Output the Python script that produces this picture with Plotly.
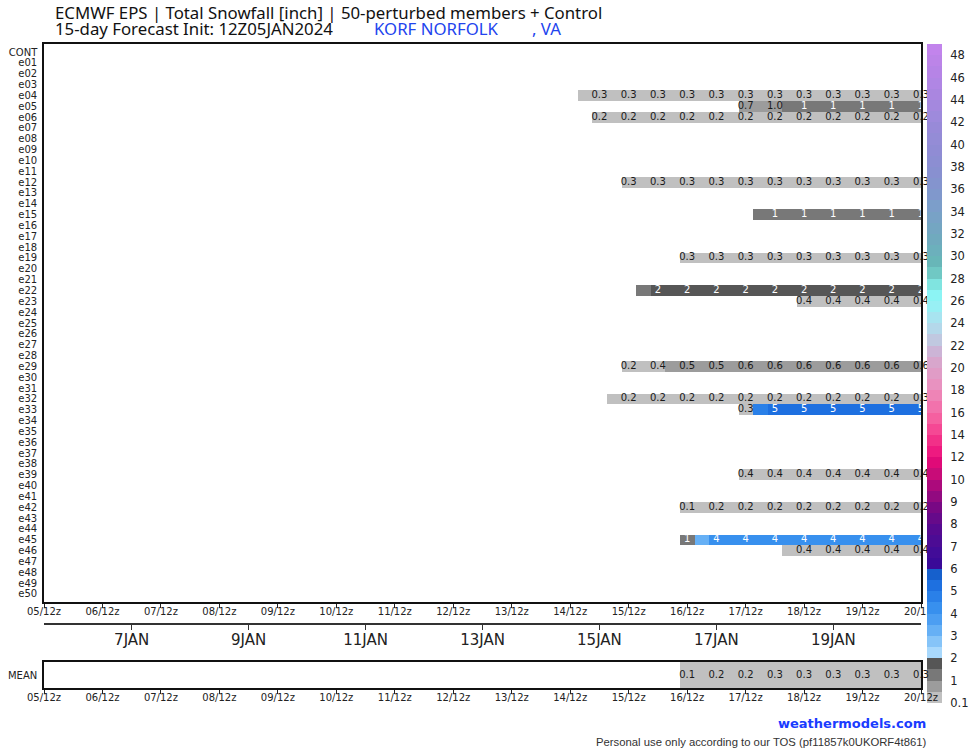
import numpy as np
import plotly.graph_objects as go

W, H = 974, 750

# ---------------- data ----------------
MEMBERS = ["CONT"] + [f"e{i:02d}" for i in range(1, 51)]
DAY_TICKS = ["05/12z", "06/12z", "07/12z", "08/12z", "09/12z", "10/12z", "11/12z", "12/12z",
             "13/12z", "14/12z", "15/12z", "16/12z", "17/12z", "18/12z", "19/12z", "20/12z"]
DATE_TICKS = ["7JAN", "9JAN", "11JAN", "13JAN", "15JAN", "17JAN", "19JAN"]
DATE_HOURS = [36, 84, 132, 180, 228, 276, 324]
N_STEPS = 61  # 6-hourly steps from 05/12z (step 0) to 20/12z (step 60)

# first 6-hourly step and accumulated snowfall [inch] per 6-h step, per member
e04_start, e04 = 37, [0.3, 0.3, 0.3, 0.3, 0.3, 0.3, 0.3, 0.3, 0.3, 0.3, 0.3, 0.3,
                      0.3, 0.3, 0.3, 0.3, 0.3, 0.3, 0.3, 0.3, 0.3, 0.3, 0.3, 0.3]
e05_start, e05 = 48, [0.7, 0.9, 0.97, 1.1, 1.2, 1.2, 1.3, 1.3, 1.3, 1.3, 1.3, 1.3, 1.3]
e06_start, e06 = 38, [0.2, 0.2, 0.2, 0.2, 0.2, 0.2, 0.2, 0.2, 0.2, 0.2, 0.2, 0.2,
                      0.2, 0.2, 0.2, 0.2, 0.2, 0.2, 0.2, 0.2, 0.2, 0.2, 0.2]
e12_start, e12 = 40, [0.3, 0.3, 0.3, 0.3, 0.3, 0.3, 0.3, 0.3, 0.3, 0.3, 0.3,
                      0.3, 0.3, 0.3, 0.3, 0.3, 0.3, 0.3, 0.3, 0.3, 0.3]
e15_start, e15 = 49, [1.2, 1.2, 1.2, 1.2, 1.2, 1.2, 1.2, 1.2, 1.2, 1.2, 1.2, 1.2]
e19_start, e19 = 44, [0.3, 0.3, 0.3, 0.3, 0.3, 0.3, 0.3, 0.3, 0.3, 0.3, 0.3,
                      0.3, 0.3, 0.3, 0.3, 0.3, 0.3]
e22_start, e22 = 41, [1.3, 1.8, 1.8, 1.8, 1.8, 1.8, 1.8, 1.8, 1.8, 1.8, 1.8,
                      1.8, 1.8, 1.8, 1.8, 1.8, 1.8, 1.8, 1.8, 1.8]
e23_start, e23 = 52, [0.4, 0.4, 0.4, 0.4, 0.4, 0.4, 0.4, 0.4, 0.4]
e29_start, e29 = 40, [0.2, 0.3, 0.4, 0.5, 0.5, 0.5, 0.5, 0.55, 0.6, 0.6, 0.6,
                      0.6, 0.6, 0.6, 0.6, 0.6, 0.6, 0.6, 0.6, 0.6, 0.6]
e32_start, e32 = 39, [0.2, 0.2, 0.2, 0.2, 0.2, 0.2, 0.2, 0.2, 0.2, 0.2, 0.2,
                      0.2, 0.2, 0.2, 0.2, 0.2, 0.2, 0.2, 0.2, 0.2, 0.25, 0.3]
e33_start, e33 = 48, [0.3, 4.7, 5.2, 5.2, 5.2, 5.2, 5.2, 5.2, 5.2, 5.2, 5.2, 5.2, 5.2]
e39_start, e39 = 48, [0.4, 0.4, 0.4, 0.4, 0.4, 0.4, 0.4, 0.4, 0.4, 0.4, 0.4, 0.4, 0.4]
e42_start, e42 = 44, [0.14, 0.18, 0.2, 0.2, 0.2, 0.2, 0.2, 0.2, 0.2, 0.2, 0.2,
                      0.2, 0.2, 0.2, 0.2, 0.2, 0.2]
e45_start, e45 = 44, [1.2, 3.2, 4.2, 4.2, 4.2, 4.2, 4.2, 4.2, 4.2, 4.2, 4.2,
                      4.2, 4.2, 4.2, 4.2, 4.2, 4.2]
e46_start, e46 = 51, [0.4, 0.4, 0.4, 0.4, 0.4, 0.4, 0.4, 0.4, 0.4, 0.4]
mean_start, mean_vals = 44, [0.12, 0.15, 0.2, 0.2, 0.2, 0.25, 0.3, 0.3, 0.3, 0.3, 0.3,
                             0.3, 0.3, 0.3, 0.3, 0.3, 0.3]

SERIES = {
    "e04": (e04_start, e04), "e05": (e05_start, e05), "e06": (e06_start, e06),
    "e12": (e12_start, e12), "e15": (e15_start, e15), "e19": (e19_start, e19),
    "e22": (e22_start, e22), "e23": (e23_start, e23), "e29": (e29_start, e29),
    "e32": (e32_start, e32), "e33": (e33_start, e33), "e39": (e39_start, e39),
    "e42": (e42_start, e42), "e45": (e45_start, e45), "e46": (e46_start, e46),
}

# colour levels (inch) and band colours
LEVELS = [0.1, 0.5, 1, 1.5, 2, 2.5, 3, 3.5, 4, 4.5, 5, 5.5, 6, 6.5, 7, 7.5, 8, 8.5, 9, 9.5, 10,
          11, 12, 13, 14, 15, 16, 17, 18, 19, 20, 21, 22, 23, 24, 25, 26, 27, 28, 29, 30,
          31, 32, 33, 34, 35, 36, 37, 38, 39, 40, 41, 42, 43, 44, 45, 46, 47, 48, 49]
BAND_COLORS = ["#c0c0c0", "#9c9c9c", "#787878", "#565656",
               "#a8d8fc", "#86c4f8", "#66b0f5", "#4c9ef2", "#3890ee", "#2a80e8", "#1e70e0", "#1660cc",
               "#3a0a98", "#420c98", "#4c0c94", "#560a90", "#660a8a", "#780884", "#920a80", "#ac0a7c",
               "#c80c78", "#e00a78", "#ee1a80", "#f23088", "#f54894", "#f560a0", "#f272ac", "#ee84b6",
               "#e892c0", "#e09cc6", "#d8a6cc", "#ccb4d6", "#c0c8e0", "#b4d8ea", "#a8e4f0", "#98f0f4",
               "#8cf4f4", "#80e4e0", "#70c8c4", "#68b6b8", "#6cb0bc", "#70aabe", "#74a6c2", "#78a2c6",
               "#7c9eca", "#8098cc", "#8494ce", "#8890d0", "#8c8ed2", "#908cd4", "#948cd6", "#988ad8",
               "#9e8adc", "#a488de", "#aa86e0", "#b086e4", "#b684e6", "#bc84e8", "#c284ec"]

# ---------------- helpers ----------------
NB = len(BAND_COLORS)
colorscale = []
for k, c in enumerate(BAND_COLORS):
    colorscale.append([k / NB, c])
    colorscale.append([(k + 1) / NB, c])


def band_index(v):
    if v is None or np.isnan(v) or v < LEVELS[0]:
        return np.nan
    return float(min(np.digitize(v, LEVELS) - 1, NB - 1))


def fmt(v):
    return f"{v:.1f}" if v < 1 else f"{v:.0f}"


hours = [6 * s for s in range(N_STEPS)]

vals = np.full((len(MEMBERS), N_STEPS), np.nan)
for name, (start, series) in SERIES.items():
    r = MEMBERS.index(name)
    for i, v in enumerate(series):
        vals[r, start + i] = v
zidx = np.vectorize(band_index)(vals)

mean_row = np.full(N_STEPS, np.nan)
for i, v in enumerate(mean_vals):
    mean_row[mean_start + i] = v
mean_idx = np.vectorize(band_index)(mean_row)

tx, ty, tt, tc = [], [], [], []
for r in range(len(MEMBERS)):
    for s in range(0, N_STEPS, 2):
        v = vals[r, s]
        if not np.isnan(v) and v >= 0.1:
            tx.append(hours[s]); ty.append(r); tt.append(fmt(v))
            tc.append("white" if v >= 1 else "#1a1a1a")
mx, mt = [], []
for s in range(0, N_STEPS, 2):
    v = mean_row[s]
    if not np.isnan(v):
        mx.append(hours[s]); mt.append(fmt(v))

# ---------------- figure ----------------
# subplots: x/y = members, x2/y2 = date axis, x3/y3 = colour key, x4/y4 = ensemble mean
fig = go.Figure()
fig.add_trace(go.Heatmap(z=zidx, x=hours, y=list(range(len(MEMBERS))), zmin=-0.5, zmax=NB - 0.5,
                         colorscale=colorscale, showscale=False, hoverinfo="skip",
                         xaxis="x", yaxis="y"))
fig.add_trace(go.Scatter(x=tx, y=ty, text=tt, mode="text", cliponaxis=False,
                         textfont=dict(family="DejaVu Sans", size=10, color=tc),
                         hoverinfo="skip", xaxis="x", yaxis="y"))
fig.add_trace(go.Scatter(x=[None], y=[None], mode="markers", xaxis="x2", yaxis="y2",
                         hoverinfo="skip"))
fig.add_trace(go.Heatmap(z=[[k] for k in range(NB)], x=[0], y=[k + 0.5 for k in range(NB)],
                         zmin=-0.5, zmax=NB - 0.5, colorscale=colorscale, showscale=False,
                         hoverinfo="skip", xaxis="x3", yaxis="y3"))
fig.add_trace(go.Heatmap(z=[list(mean_idx)], x=hours, y=[0], zmin=-0.5, zmax=NB - 0.5,
                         colorscale=colorscale, showscale=False, hoverinfo="skip",
                         xaxis="x4", yaxis="y4"))
fig.add_trace(go.Scatter(x=mx, y=[0] * len(mx), text=mt, mode="text", cliponaxis=False,
                         textfont=dict(family="DejaVu Sans", size=10, color="#1a1a1a"),
                         hoverinfo="skip", xaxis="x4", yaxis="y4"))

xd = [44 / W, 921 / W]
tickfont = dict(family="DejaVu Sans", size=10, color="#222")
common_x = dict(domain=xd, range=[0, 360], tickvals=[24 * i for i in range(16)], ticktext=DAY_TICKS,
                ticks="outside", ticklen=4, tickcolor="#222", showgrid=False, zeroline=False,
                showline=True, linecolor="#111", linewidth=1.5, mirror=True, tickfont=tickfont,
                automargin=False, ticklabelstandoff=-5)

fig.update_layout(
    width=W, height=H, margin=dict(l=0, r=0, t=0, b=0, autoexpand=False),
    paper_bgcolor="white", plot_bgcolor="white", showlegend=False,
    xaxis=dict(anchor="y", **common_x),
    yaxis=dict(domain=[1 - 602 / H, 1 - 44 / H], range=[50.74, -0.74], tickvals=list(range(51)),
               ticktext=MEMBERS, ticks="outside", ticklen=3, tickcolor="rgba(0,0,0,0)",
               showgrid=False, zeroline=False, showline=True, linecolor="#111", linewidth=1.5,
               mirror=True, tickfont=tickfont, automargin=False),
    xaxis2=dict(anchor="y2", domain=xd, range=[0, 360], tickvals=DATE_HOURS, ticktext=DATE_TICKS,
                ticks="outside", ticklen=5, tickcolor="#333", showgrid=False, zeroline=False,
                showline=True, linecolor="#333", linewidth=1.5, automargin=False,
                ticklabelstandoff=-3,
                tickfont=dict(family="DejaVu Sans", size=15, color="#222")),
    yaxis2=dict(anchor="x2", domain=[1 - 623 / H, 1 - 618 / H], range=[0, 1], visible=False,
                automargin=False),
    xaxis3=dict(anchor="y3", domain=[927 / W, 942 / W], range=[-0.5, 0.5], visible=False,
                automargin=False),
    yaxis3=dict(anchor="x3", domain=[1 - 703 / H, 1 - 44 / H], range=[0, NB], side="right",
                tickvals=list(range(0, NB, 2)), ticktext=[fmt(LEVELS[i]) for i in range(0, NB, 2)],
                ticks="outside", ticklen=5, tickcolor="rgba(0,0,0,0)", showgrid=False,
                zeroline=False, showline=False, automargin=False,
                tickfont=dict(family="DejaVu Sans", size=11.5, color="#222")),
    xaxis4=dict(anchor="y4", **common_x),
    yaxis4=dict(anchor="x4", domain=[1 - 688 / H, 1 - 662 / H], range=[-0.5, 0.5], tickvals=[0],
                ticktext=["MEAN"], ticks="outside", ticklen=3, tickcolor="rgba(0,0,0,0)",
                showgrid=False, zeroline=False, showline=True, linecolor="#111", linewidth=1.5,
                mirror=True, tickfont=tickfont, automargin=False),
)

ann = [
    dict(text="ECMWF EPS | Total Snowfall [inch] | 50-perturbed members + Control",
         x=53 / W, y=1 - 12 / H, font=dict(family="Noto Sans", size=16.8, color="#111")),
    dict(text="15-day Forecast Init: 12Z05JAN2024", x=53 / W, y=1 - 29 / H,
         font=dict(family="Noto Sans", size=16.8, color="#111")),
    dict(text="KORF NORFOLK", x=372 / W, y=1 - 29 / H,
         font=dict(family="Noto Sans", size=16.8, color="#2244ee")),
    dict(text=", VA", x=530 / W, y=1 - 29 / H,
         font=dict(family="Noto Sans", size=16.8, color="#2244ee")),
]
for a in ann:
    a.update(xref="paper", yref="paper", xanchor="left", yanchor="middle", showarrow=False)
    fig.add_annotation(**a)
fig.add_annotation(text="<b>weathermodels.com</b>", x=928 / W, y=1 - 723 / H, xref="paper",
                   yref="paper", xanchor="right", yanchor="middle", showarrow=False,
                   font=dict(family="DejaVu Sans", size=13, color="#1a3cff"))
fig.add_annotation(text="Personal use only according to our TOS (pf11857k0UKORF4t861)",
                   x=929 / W, y=1 - 742 / H, xref="paper", yref="paper", xanchor="right",
                   yanchor="middle", showarrow=False,
                   font=dict(family="Liberation Sans", size=11.3, color="#333"))

fig.write_html("out.html", config={"displayModeBar": False},
               post_script="document.body.style.margin='0px';")
